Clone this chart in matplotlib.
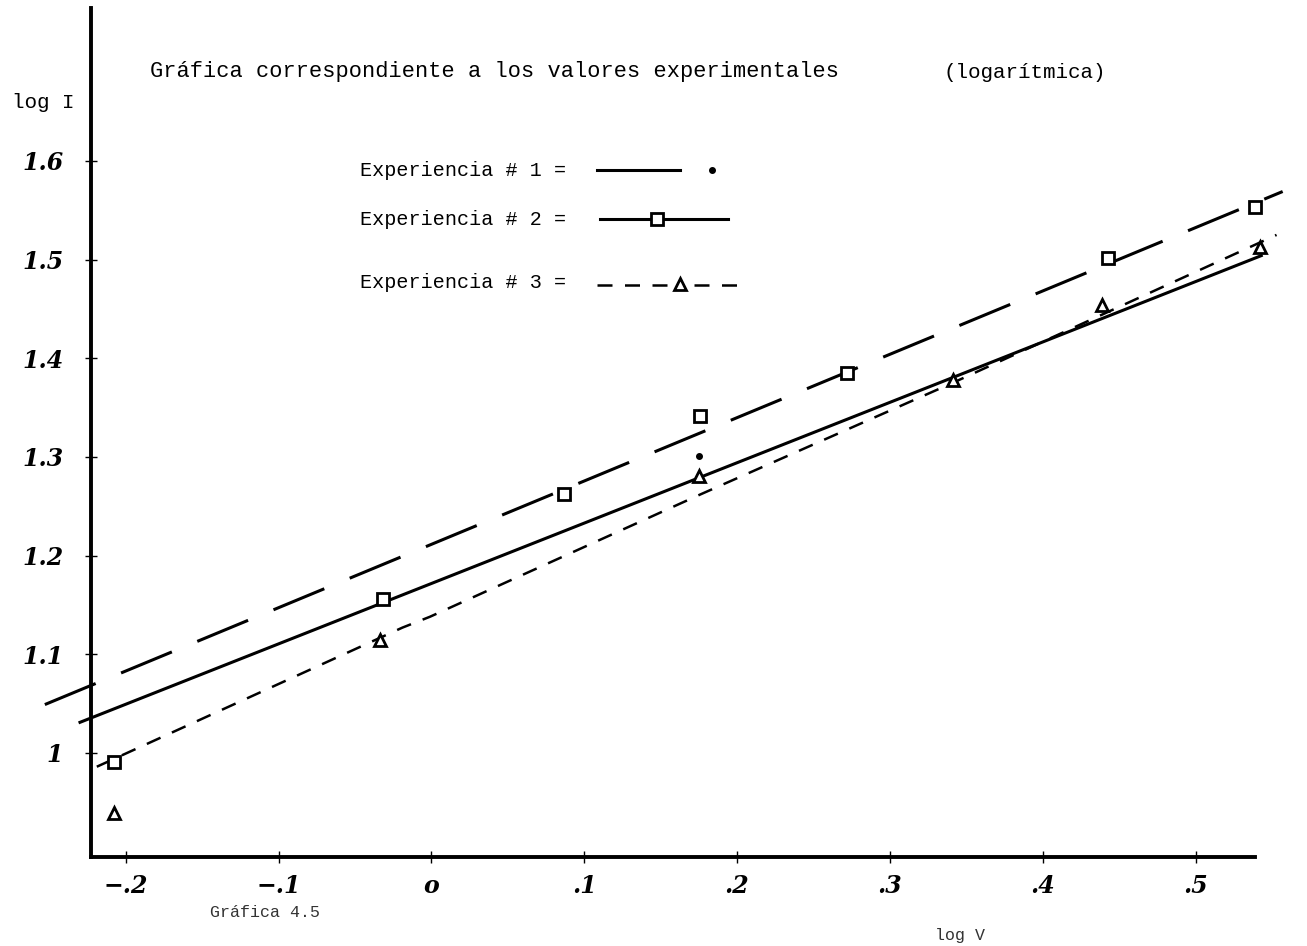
import matplotlib
matplotlib.use("Agg")
import matplotlib.pyplot as plt
from matplotlib.lines import Line2D

W, H = 1307, 946

# experiencia 1: solid line, dots
exp1_x = [0.175]
exp1_y = [1.301]
exp1_line_x = [-0.230, 0.543]
exp1_line_y = [1.031, 1.504]

# experiencia 2: long dashes, squares
exp2_x = [-0.208, -0.032, 0.087, 0.176, 0.272, 0.443, 0.539]
exp2_y = [0.991, 1.156, 1.262, 1.341, 1.385, 1.502, 1.553]
exp2_line_x = [-0.253, 0.557]
exp2_line_y = [1.049, 1.569]

# experiencia 3: short dashes, triangles
exp3_x = [-0.208, -0.034, 0.175, 0.341, 0.439, 0.542]
exp3_y = [0.939, 1.114, 1.281, 1.378, 1.454, 1.513]
exp3_line_x = [-0.219, -0.019, -0.001, 0.176, 0.341, 0.553]
exp3_line_y = [0.986, 1.127, 1.138, 1.262, 1.375, 1.525]

x_ticks = [-0.2, -0.1, 0.0, 0.1, 0.2, 0.3, 0.4, 0.5]
x_labels = ["−.2", "−.1", "o", ".1", ".2", ".3", ".4", ".5"]
y_ticks = [1.0, 1.1, 1.2, 1.3, 1.4, 1.5, 1.6]
y_labels = ["1", "1.1", "1.2", "1.3", "1.4", "1.5", "1.6"]

LONG = (0, (18, 9))
SHORT = (0, (6, 5))
TYPE = "Liberation Mono"
HAND = {"family": "DejaVu Serif", "style": "italic", "weight": "bold", "size": 17}


def fx(px):
    return px / W


def fy(py):
    return 1 - py / H


fig = plt.figure(figsize=(W / 100, H / 100), dpi=100)
ax = fig.add_axes([fx(91), fy(857), (1255 - 91) / W, (857 - 8) / H])
ax.set_xlim(-0.2228, 0.5389)
ax.set_ylim(0.8945, 1.755)

for s in ("top", "right"):
    ax.spines[s].set_visible(False)
for s in ("left", "bottom"):
    ax.spines[s].set_linewidth(2.8)

ax.set_xticks(x_ticks)
ax.set_xticklabels(x_labels, fontdict=HAND)
ax.set_yticks(y_ticks)
ax.set_yticklabels(y_labels, fontdict=HAND)
ax.tick_params(axis="x", direction="inout", length=8, width=1, pad=8)
ax.tick_params(axis="y", direction="inout", length=8, width=1, pad=16)

lw = 2.2
ax.plot(exp1_line_x, exp1_line_y, color="black", lw=lw, clip_on=False)
ax.plot(exp2_line_x, exp2_line_y, color="black", lw=lw, ls=LONG, clip_on=False)
ax.plot(exp3_line_x, exp3_line_y, color="black", lw=1.8, ls=SHORT, clip_on=False)

ax.plot(exp1_x, exp1_y, "o", color="black", ms=4, clip_on=False, zorder=4)
ax.plot(exp2_x, exp2_y, "s", mfc="white", mec="black", mew=2, ms=9,
        clip_on=False, zorder=4)
ax.plot(exp3_x, exp3_y, "^", mfc="white", mec="black", mew=2, ms=9,
        clip_on=False, zorder=4)

# textos a maquina
fig.text(fx(150), fy(72), "Gráfica correspondiente a los valores experimentales",
         family=TYPE, size=15.8, va="center", ha="left")
fig.text(fx(943), fy(72), "(logarítmica)", family=TYPE, size=15,
         va="center", ha="left")
fig.text(fx(12), fy(103), "log I", family=TYPE, size=15, va="center", ha="left")
fig.text(fx(210), fy(912), "Gráfica 4.5", family=TYPE, size=12,
         va="center", ha="left", color="#333333")
fig.text(fx(935), fy(935), "log V", family=TYPE, size=12,
         va="center", ha="left", color="#333333")

# leyenda dibujada a mano
rows = [("Experiencia # 1 =", 170), ("Experiencia # 2 =", 219), ("Experiencia # 3 =", 283)]
for label, py in rows:
    fig.text(fx(360), fy(py), label, family=TYPE, size=14.5, va="center", ha="left")

fig.add_artist(Line2D([fx(597), fx(680)], [fy(170)] * 2, color="black", lw=lw))
fig.add_artist(Line2D([fx(712)], [fy(170)], marker="o", color="black", ms=4))

fig.add_artist(Line2D([fx(600), fx(652)], [fy(219)] * 2, color="black", lw=lw))
fig.add_artist(Line2D([fx(664), fx(728)], [fy(219)] * 2, color="black", lw=lw))
fig.add_artist(Line2D([fx(657)], [fy(219)], marker="s", mfc="white", mec="black",
                      mew=2, ms=9))

fig.add_artist(Line2D([fx(597), fx(668)], [fy(285)] * 2, color="black", lw=1.8, ls=SHORT))
fig.add_artist(Line2D([fx(694), fx(745)], [fy(285)] * 2, color="black", lw=1.8, ls=SHORT))
fig.add_artist(Line2D([fx(680)], [fy(284)], marker="^", mfc="white", mec="black",
                      mew=2, ms=9))

fig.savefig("out.png", dpi=100)
